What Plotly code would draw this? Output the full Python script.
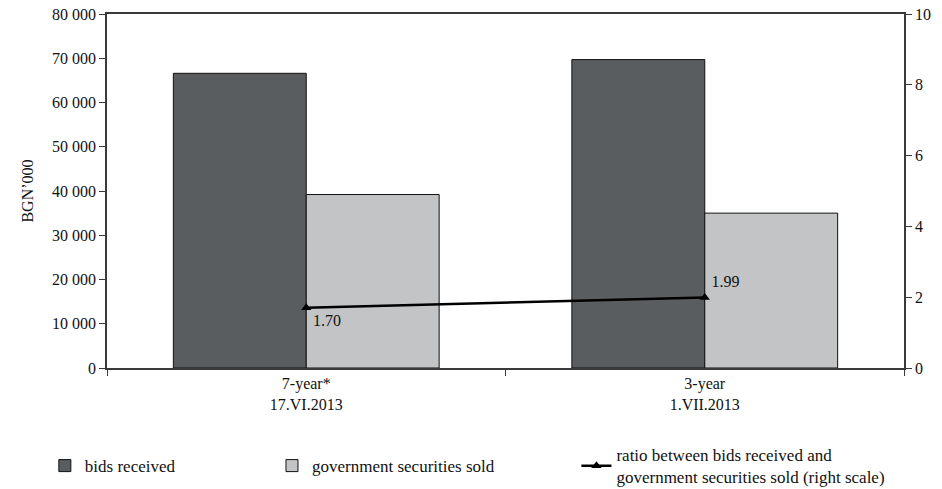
import plotly.graph_objects as go

categories = ["7-year*<br>17.VI.2013", "3-year<br>1.VII.2013"]
bids_received = [66600, 69700]
securities_sold = [39200, 35000]
ratio = [1.70, 1.99]
ratio_labels = ["1.70", "1.99"]
left_ticks = [0, 10000, 20000, 30000, 40000, 50000, 60000, 70000, 80000]
left_tick_text = ["0", "10 000", "20 000", "30 000", "40 000", "50 000", "60 000", "70 000", "80 000"]

FONT = "Liberation Serif, Times New Roman, serif"
AX = "#3a3a3a"

fig = go.Figure()
fig.add_trace(go.Bar(
    x=categories, y=bids_received, name="bids received", legend="legend",
    marker=dict(color="#5a5d60", line=dict(color="#111111", width=1)),
))
fig.add_trace(go.Bar(
    x=categories, y=securities_sold, name="government securities sold", legend="legend2",
    marker=dict(color="#c3c4c6", line=dict(color="#111111", width=1)),
))
fig.add_trace(go.Scatter(
    x=categories, y=ratio, yaxis="y2", legend="legend3",
    name="ratio between bids received and<br>government securities sold (right scale)",
    mode="lines+markers+text",
    line=dict(color="black", width=2.5),
    marker=dict(symbol="triangle-up", size=9, color="black"),
    text=ratio_labels, textposition=["bottom right", "top right"],
    textfont=dict(family=FONT, size=16, color="#111111"),
))

leg_common = dict(
    orientation="h", yanchor="middle", xanchor="left", y=-0.277,
    font=dict(family=FONT, size=17, color="#111111"),
    itemwidth=30, bgcolor="rgba(0,0,0,0)",
)

fig.update_layout(
    width=942, height=489,
    margin=dict(l=107, r=38, t=14, b=121, autoexpand=False),
    plot_bgcolor="white", paper_bgcolor="white",
    font=dict(family=FONT, size=16, color="#111111"),
    barmode="group", bargap=0.333, bargroupgap=0,
    showlegend=True,
    legend=dict(x=-0.078, **leg_common),
    legend2=dict(x=0.207, **leg_common),
    legend3=dict(x=0.589, **leg_common),
    xaxis=dict(
        showline=True, linecolor=AX, linewidth=1.5, mirror=True,
        ticks="outside", tickson="boundaries", ticklen=6, tickcolor=AX,
        tickfont=dict(family=FONT, size=16), automargin=False,
    ),
    yaxis=dict(
        range=[0, 80000], tickvals=left_ticks, ticktext=left_tick_text,
        showline=True, linecolor=AX, linewidth=1.5,
        ticks="outside", ticklen=6, tickcolor=AX, showgrid=False, zeroline=False,
        title=dict(text="BGN’000", font=dict(family=FONT, size=16), standoff=14),
        tickfont=dict(family=FONT, size=16), automargin=False,
    ),
    yaxis2=dict(
        range=[0, 10], dtick=2, overlaying="y", side="right",
        showline=True, linecolor=AX, linewidth=1.5,
        ticks="outside", ticklen=6, tickcolor=AX, showgrid=False, zeroline=False,
        tickfont=dict(family=FONT, size=16), automargin=False,
    ),
)

fig.write_html(
    "out.html",
    config={"displayModeBar": False},
    post_script="document.body.style.margin='0';document.body.style.padding='0';",
)
